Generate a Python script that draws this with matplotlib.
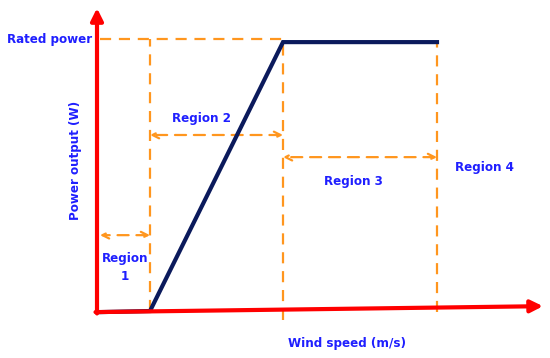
import matplotlib.pyplot as plt

# schematic power curve (wind speed in arbitrary units, power as fraction of rated)
wind = [0.06, 1.06, 3.72, 6.8]
power = [0.0, 0.004, 1.0, 1.0]
cut_in = 1.06
rated_speed = 3.72
cut_out = 6.8
rated_power = 1.0

region_labels = ["Region\n1", "Region 2", "Region 3", "Region 4"]

blue = "#1f1fff"
orange = "#ff961e"
red = "#ff0000"
navy = "#0b1a5c"

fig = plt.figure(figsize=(5.5, 3.58), dpi=100)
ax = fig.add_axes([0, 0, 1, 1])
ax.set_xlim(-1.94, 9.06)
ax.set_ylim(-0.17, 1.156)
ax.axis("off")

# dashed guide lines
dash = dict(color=orange, lw=1.6, dashes=(5, 3.5))
ax.plot([0.06, rated_speed], [1.01, 1.01], **dash)
ax.plot([cut_in, cut_in], [0.004, 1.01], **dash)
ax.plot([rated_speed, rated_speed], [-0.03, rated_power], **dash)
ax.plot([cut_out, cut_out], [0.0, rated_power], **dash)

# region arrows
arr = dict(arrowstyle="<->", color=orange, lw=1.6, linestyle=(0, (5, 3.5)),
           shrinkA=0, shrinkB=0, mutation_scale=12)
ax.annotate("", xy=(0.06, 0.285), xytext=(cut_in, 0.285), arrowprops=arr)
ax.annotate("", xy=(cut_in, 0.656), xytext=(rated_speed, 0.656), arrowprops=arr)
ax.annotate("", xy=(rated_speed, 0.574), xytext=(cut_out, 0.574), arrowprops=arr)

# power curve
ax.plot(wind, power, color=navy, lw=3, solid_joinstyle="miter", zorder=4)

# axes arrows
ax.annotate("", xy=(0, 1.126), xytext=(0, -0.005),
            arrowprops=dict(arrowstyle="-|>", color=red, lw=3, mutation_scale=18,
                            shrinkA=0, shrinkB=0), zorder=5)
ax.annotate("", xy=(8.92, 0.022), xytext=(-0.03, 0.0),
            arrowprops=dict(arrowstyle="-|>", color=red, lw=3, mutation_scale=18,
                            shrinkA=0, shrinkB=0), zorder=5)

# labels
txt = dict(color=blue, family="DejaVu Sans", fontstretch="condensed",
           fontweight="bold", fontsize=9.5)
ax.text(-1.8, 1.01, "Rated power", ha="left", va="center", **txt)
ax.text(-0.44, 0.56, "Power output (W)", rotation=90, ha="center", va="center", **txt)
ax.text(5.0, -0.118, "Wind speed (m/s)", ha="center", va="center", **txt)
ax.text(0.56, 0.165, region_labels[0], ha="center", va="center", linespacing=1.5, **txt)
ax.text(2.1, 0.718, region_labels[1], ha="center", va="center", **txt)
ax.text(5.12, 0.485, region_labels[2], ha="center", va="center", **txt)
ax.text(7.74, 0.537, region_labels[3], ha="center", va="center", **txt)

fig.savefig("out.png", dpi=100)
